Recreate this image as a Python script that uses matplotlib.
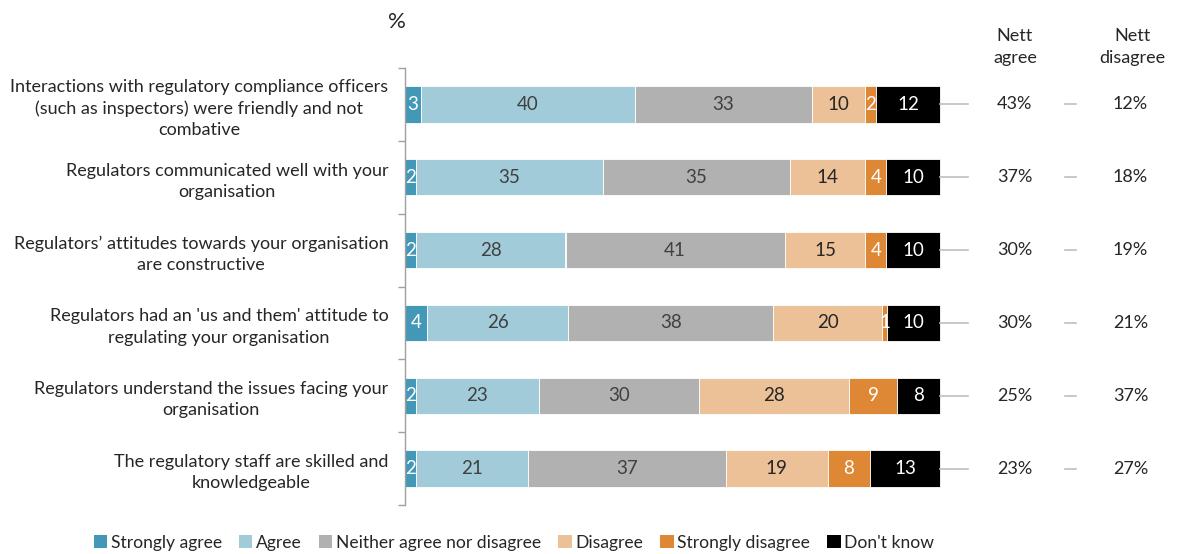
import matplotlib
matplotlib.use("Agg")
import matplotlib.pyplot as plt
from matplotlib.patches import Patch

plt.rcParams['font.family'] = ['Lato', 'DejaVu Sans']

categories = [
    "Interactions with regulatory compliance officers\n(such as inspectors) were friendly and not\ncombative",
    "Regulators communicated well with your\norganisation",
    "Regulators\u2019 attitudes towards your organisation\nare constructive",
    "Regulators had an 'us and them' attitude to\nregulating your organisation",
    "Regulators understand the issues facing your\norganisation",
    "The regulatory staff are skilled and\nknowledgeable",
]
series_names = ["Strongly agree", "Agree", "Neither agree nor disagree",
                "Disagree", "Strongly disagree", "Don't know"]
strongly_agree = [3, 2, 2, 4.1, 2, 2]
agree = [40, 35, 28, 26.4, 23, 21]
neither = [33, 35, 41, 38.3, 30, 37]
disagree = [10, 14, 15, 20.4, 28, 19]
strongly_disagree = [2, 4, 4, 0.9, 9, 8]
dont_know = [12, 10, 10, 9.9, 8, 13]
nett_agree = ["43%", "37%", "30%", "30%", "25%", "23%"]
nett_disagree = ["12%", "18%", "19%", "21%", "37%", "27%"]

colors = ["#4398B8", "#A2CBDA", "#B1B1B2", "#EDC197", "#DE8835", "#000000"]
text_colors = ["white", "#404040", "#404040", "#262626", "white", "white"]

series = [strongly_agree, agree, neither, disagree, strongly_disagree, dont_know]

fig = plt.figure(figsize=(11.8, 5.54), dpi=100)
ax = fig.add_axes([405/1180, 1-505/554, 1-405/1180, (505-68)/554])

ypos = list(range(len(categories)))
left = [0]*len(categories)
for vals, col, tc in zip(series, colors, text_colors):
    ax.barh(ypos, vals, left=left, height=0.5, color=col,
            edgecolor='white', linewidth=0.6)
    for y, v, l in zip(ypos, vals, left):
        ax.text(l + v/2, y, f"{round(v)}", ha='center', va='center',
                color=tc, fontsize=13.5)
    left = [a+b for a, b in zip(left, vals)]

xmax = (1180-405)/5.35
ax.set_xlim(0, xmax)
ax.set_ylim(5.5, -0.5)

for y, a, d in zip(ypos, nett_agree, nett_disagree):
    ax.plot([100, 105.2], [y, y], color='#BFBFBF', lw=1.2)
    ax.plot([123.4, 125.4], [y, y], color='#BFBFBF', lw=1.2)
    ax.text(114.0, y, a, ha='center', va='center', fontsize=13, color='#262626')
    ax.text(135.6, y, d, ha='center', va='center', fontsize=13, color='#262626')

fig.text(1015/1180, 1-47/554, "Nett\nagree", ha='center', va='center',
         fontsize=13, color='#262626', linespacing=1.4)
fig.text(1132/1180, 1-47/554, "Nett\ndisagree", ha='center', va='center',
         fontsize=13, color='#262626', linespacing=1.4)
fig.text(397/1180, 1-22/554, "%", ha='center', va='center', fontsize=16, color='#262626')

ax.set_yticks(ypos)
ax.set_yticklabels(categories, fontsize=13, color='#262626', linespacing=1.4,
                   multialignment='center')
ax.tick_params(axis='y', which='major', length=0, pad=12)
ax.set_yticks([i - 0.5 for i in range(len(categories)+1)], minor=True)
ax.tick_params(axis='y', which='minor', length=5, color='#A0A0A0', width=1)
ax.set_xticks([])
for s in ['top', 'right', 'bottom']:
    ax.spines[s].set_visible(False)
ax.spines['left'].set_color('#A0A0A0')
ax.spines['left'].set_linewidth(1)

handles = [Patch(facecolor=c, edgecolor='none') for c in colors]
fig.legend(handles, series_names, loc='center', bbox_to_anchor=(514/1180, 1-543/554),
           ncol=6, frameon=False, fontsize=12.6, handlelength=0.75, handleheight=0.75,
           handletextpad=0.2, columnspacing=1.0, labelcolor='#262626')

fig.savefig("out.png", dpi=100)
